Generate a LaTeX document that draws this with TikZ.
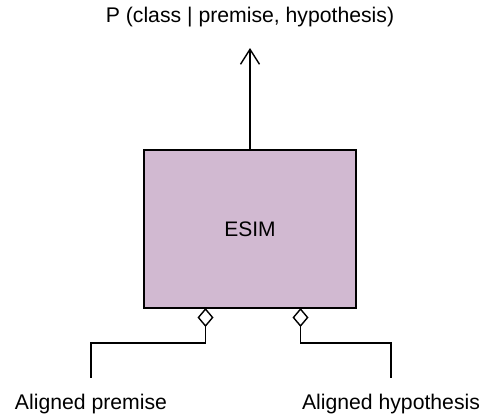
\documentclass[tikz,border=0pt]{standalone}
\usepackage{fontspec}
\setmainfont{Liberation Sans}
\usetikzlibrary{arrows.meta,calc}
\definecolor{esimfill}{HTML}{D1B9D1}
\tikzset{
  lbl/.style={font=\fontsize{21.2}{25}\selectfont, inner sep=0pt, anchor=base},
  esimbox/.style={draw=black, fill=esimfill, line width=1.4pt, minimum width=212pt, minimum height=158pt, inner sep=0pt, font=\fontsize{21}{25}\selectfont},
  conn/.style={line width=1.4pt},
  agg/.style={conn, {Diamond[open,length=19pt,width=16pt,line width=1.4pt]}-},
  uparrow/.style={conn, -{Straight Barb[length=15pt,width=19pt,line width=1.4pt]}}
}
\begin{document}
\begin{tikzpicture}[x=1pt,y=-1pt]
\useasboundingbox (0,0) rectangle (486,418);
\node[esimbox] (esim) at (250,229) {ESIM};
\node[lbl] (title) at (250,22) {P (class | premise, hypothesis)};
\node[lbl] (prem) at (91,409) {Aligned premise};
\node[lbl] (hyp) at (391,409) {Aligned hypothesis};
\coordinate (tip) at (250,48);
\coordinate (pend) at (91,378);
\coordinate (hend) at (391,378);
\coordinate (pstart) at (205.5,308);
\coordinate (hstart) at (300.5,308);
\draw[uparrow] (esim.north) -- (tip);
\draw[agg] (pstart) -- (205.5,343) -| (pend);
\draw[agg] (hstart) -- (300.5,343) -| (hend);
\end{tikzpicture}
\end{document}
